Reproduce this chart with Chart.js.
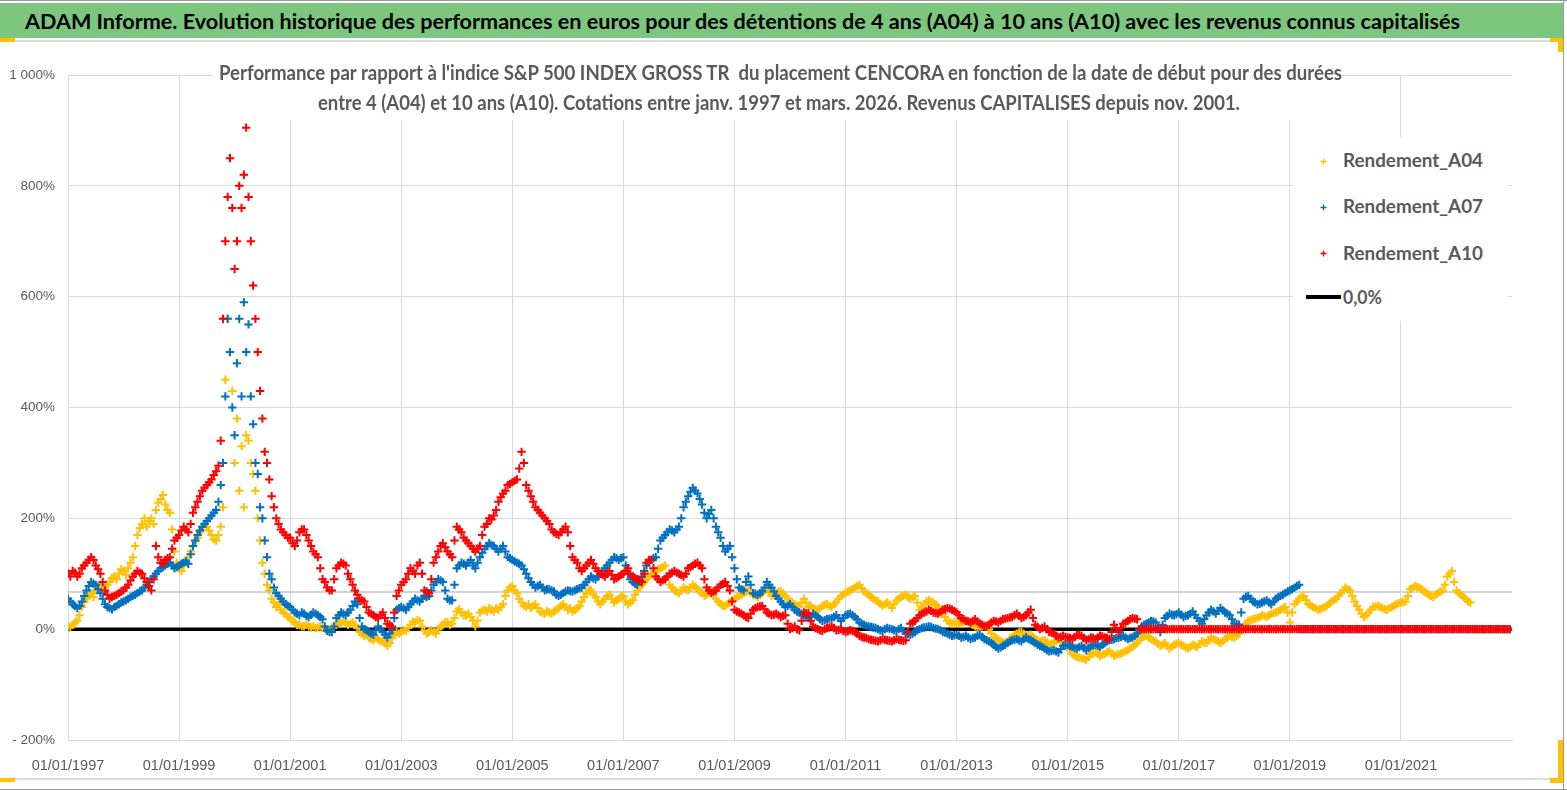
<!DOCTYPE html>
<html>
<head>
<meta charset="utf-8">
<script src="https://cdn.jsdelivr.net/npm/chart.js@4.4.1/dist/chart.umd.min.js"></script>
<style>
html, body { margin: 0; padding: 0; background: #fff; }
#page { position: relative; width: 1567px; height: 790px; overflow: hidden; background: #fff; }
#chartBox { position: absolute; left: 0; top: 0; width: 1567px; height: 790px; }
#titlebar { position: absolute; left: 0; top: 3px; width: 1563px; height: 35px; background: #7dc67e; }
.txt { position: absolute; white-space: pre; transform-origin: 0 0; font-family: Lato, 'Open Sans', sans-serif; font-weight: bold; }
.grey { color: #595959; }
.mask { position: absolute; background: #fff; }
.frame { position: absolute; }
</style>
</head>
<body>
<div id="page">
  <div id="chartBox"><canvas id="chart"></canvas></div>

  <div class="frame" style="left:0;top:0;width:1567px;height:1px;background:#9a9a9a"></div>
  <div class="frame" style="left:0;top:789px;width:1567px;height:1px;background:#9a9a9a"></div>
  <div class="frame" style="left:1563px;top:0;width:1px;height:790px;background:#9a9a9a"></div>
  <div class="frame" style="left:0;top:40px;width:1563px;height:2px;background:#dcdcdc"></div>
  <div class="frame" style="left:0;top:778px;width:1563px;height:2px;background:#dcdcdc"></div>
  <div class="frame" style="left:0;top:38px;width:15px;height:4px;background:#ffc000"></div>
  <div class="frame" style="left:0;top:778px;width:15px;height:4px;background:#ffc000"></div>
  <div class="frame" style="left:1550px;top:38px;width:13px;height:4px;background:#ffc000"></div>
  <div class="frame" style="left:1558px;top:38px;width:5px;height:14px;background:#ffc000"></div>
  <div class="frame" style="left:1550px;top:778px;width:13px;height:5px;background:#ffc000"></div>
  <div class="frame" style="left:1558px;top:740px;width:5px;height:43px;background:#ffc000"></div>

  <div id="titlebar"></div>
  <span class="txt fit" data-w="1435" style="left:25px;top:11px;font-size:21.5px;line-height:21.5px;color:#000">ADAM Informe. Evolution historique des performances en euros pour des détentions de 4 ans (A04) à 10 ans (A10) avec les revenus connus capitalisés</span>

  <div class="mask" style="left:213px;top:58px;width:1128px;height:62px"></div>
  <span class="txt grey fit" data-w="1123" style="left:219px;top:62px;font-size:21.5px;line-height:21.5px">Performance par rapport à l'indice S&amp;P 500 INDEX GROSS TR  du placement CENCORA en fonction de la date de début pour des durées</span>
  <span class="txt grey fit" data-w="922" style="left:318px;top:92px;font-size:21.5px;line-height:21.5px">entre 4 (A04) et 10 ans (A10). Cotations entre janv. 1997 et mars. 2026. Revenus CAPITALISES depuis nov. 2001.</span>

  <div class="mask" style="left:1293px;top:137px;width:215px;height:184px"></div>
  <div id="legend"></div>
</div>

<script>
// x positions: two readings per month (start and middle), as decimal years
const dates = [];
for (let y = 1997; y < 2023; y++) {
    for (let k = 0; k < 24; k++) dates.push(y + k / 24);
}

// Rendement_A04 (%), 24 readings per year, 1997 -> 2022
const A04 = [
    5, 3, 8, 12, 15, 25, 40, 50, 55, 62, 65, 58, 70, 78, 80, 72, 75, 80, 85, 92, 95, 90, 100, 108,                 // 1997
    105, 98, 110, 120, 130, 150, 170, 182, 190, 200, 185, 195, 200, 190, 215, 228, 235, 242, 225, 215, 210, 180, 140, 120, // 1998
    110, 105, 115, 125, 130, 140, 150, 158, 165, 175, 180, 190, 185, 178, 170, 162, 160, 170, 185, 220, 450, 560, 500, 430, // 1999
    300, 380, 250, 330, 220, 350, 340, 300, 280, 250, 200, 160, 120, 100, 80, 70, 55, 48, 40, 45, 35, 30, 28, 22,  // 2000
    20, 15, 12, 8, 8, 5, 5, 8, 5, 3, 5, 2, 3, 5, 2, 0, 0, -2, 3, 5, 8, 12, 10, 14,                                 // 2001
    12, 8, 10, 12, 8, 2, -5, -8, -12, -10, -15, -18, -20, -15, -18, -22, -22, -25, -30, -25, -15, -10, -5, -8,     // 2002
    -5, -2, -3, 2, 8, 14, 12, 16, 15, 5, -3, -8, -5, -2, -5, -8, 0, 5, 8, 12, 12, 8, 10, 20,                       // 2003
    32, 36, 30, 25, 25, 28, 22, 15, 5, 15, 30, 34, 35, 32, 38, 35, 32, 38, 35, 40, 45, 60, 70, 75,                 // 2004
    78, 70, 65, 55, 48, 42, 40, 45, 38, 42, 45, 38, 32, 30, 28, 32, 30, 28, 32, 35, 38, 42, 45, 40,                // 2005
    35, 38, 32, 35, 38, 42, 50, 58, 65, 72, 70, 62, 58, 50, 45, 50, 55, 60, 62, 55, 48, 52, 55, 58,                // 2006
    60, 50, 45, 48, 52, 62, 70, 75, 80, 85, 90, 95, 100, 98, 105, 108, 110, 112, 115, 95, 80, 75, 70, 68,          // 2007
    65, 70, 75, 72, 70, 75, 80, 76, 72, 68, 65, 60, 62, 66, 70, 62, 55, 50, 45, 42, 42, 45, 48, 52,                // 2008
    55, 58, 60, 62, 65, 68, 70, 66, 62, 60, 58, 62, 65, 70, 72, 66, 60, 62, 65, 68, 68, 64, 60, 55,                // 2009
    50, 48, 45, 42, 40, 48, 55, 48, 40, 42, 38, 36, 35, 38, 42, 44, 45, 42, 40, 45, 48, 55, 60, 62,                // 2010
    65, 68, 70, 72, 75, 78, 80, 74, 68, 65, 62, 58, 55, 52, 50, 46, 42, 45, 48, 44, 38, 45, 52, 55,                // 2011
    58, 60, 62, 58, 55, 58, 60, 48, 35, 40, 45, 50, 52, 50, 48, 44, 40, 35, 28, 22, 15, 12, 10, 12,                // 2012
    12, 11, 10, 13, 15, 14, 12, 8, 5, 3, 2, 5, 8, 5, 0, -8, -15, -16, -18, -22, -25, -24, -22, -18,                // 2013
    -15, -10, -8, -6, -5, -8, -12, -11, -10, -14, -18, -20, -22, -21, -20, -24, -28, -26, -25, -22, -18, -22, -25, -28, // 2014
    -30, -38, -45, -48, -50, -51, -52, -54, -55, -50, -45, -44, -42, -45, -48, -46, -45, -42, -40, -44, -48, -46, -45, -44, // 2015
    -42, -40, -38, -35, -32, -28, -25, -20, -15, -13, -12, -15, -18, -20, -22, -26, -30, -28, -25, -30, -35, -32, -28, -26, // 2016
    -25, -28, -30, -33, -35, -32, -28, -30, -32, -27, -22, -24, -25, -20, -15, -18, -20, -22, -25, -22, -18, -15, -12, -14, // 2017
    -15, -12, -8, -2, 5, 10, 15, 16, 18, 19, 20, 22, 25, 24, 22, 25, 28, 29, 30, 32, 35, 38, 40, 30,               // 2018
    12, 30, 45, 50, 55, 58, 60, 52, 45, 42, 40, 38, 35, 36, 38, 40, 42, 46, 50, 52, 55, 60, 65, 70,                // 2019
    75, 72, 70, 60, 50, 42, 35, 28, 22, 25, 30, 35, 40, 41, 42, 40, 38, 36, 35, 38, 40, 42, 45, 47,                // 2020
    48, 49, 50, 60, 72, 75, 78, 76, 75, 72, 68, 65, 62, 60, 58, 62, 65, 68, 70, 80, 95, 100, 105, 85,              // 2021
    70, 65, 62, 58, 55, 50, 48, 0, 0, 0, 0, 0, 0, 0, 0, 0, 0, 0, 0, 0, 0, 0, 0, 0                                  // 2022
];

// Rendement_A07 (%)
const A07 = [
    55, 50, 45, 42, 38, 42, 50, 60, 70, 78, 85, 82, 80, 72, 65, 55, 45, 40, 38, 36, 40, 42, 45, 48,                // 1997
    50, 52, 55, 58, 60, 62, 65, 68, 70, 75, 80, 85, 90, 95, 100, 105, 110, 112, 115, 118, 120, 115, 110, 112,      // 1998
    115, 118, 120, 122, 118, 135, 150, 160, 170, 178, 185, 190, 195, 200, 205, 210, 215, 230, 260, 300, 420, 560, 500, 400, // 1999
    350, 480, 560, 420, 590, 500, 550, 420, 370, 300, 280, 220, 200, 160, 130, 100, 90, 75, 65, 60, 55, 50, 45, 42, // 2000
    40, 35, 30, 28, 25, 30, 28, 24, 22, 26, 30, 28, 25, 22, 18, 5, -3, -5, -5, 5, 20, 25, 30, 28,                  // 2001
    25, 30, 35, 42, 50, 45, 20, 5, 0, -2, -5, -8, -10, -2, 5, 0, -5, -10, -15, -8, 0, 20, 35, 38,                  // 2002
    40, 38, 35, 40, 45, 50, 55, 52, 50, 55, 60, 58, 60, 70, 80, 85, 90, 88, 85, 70, 55, 52, 52, 80,                // 2003
    110, 115, 120, 118, 115, 120, 125, 115, 110, 120, 130, 138, 145, 150, 155, 152, 150, 145, 140, 145, 150, 140, 130, 128, // 2004
    125, 122, 120, 118, 115, 108, 100, 92, 85, 80, 75, 78, 80, 75, 70, 72, 72, 70, 68, 62, 60, 62, 65, 68,         // 2005
    70, 69, 68, 70, 72, 74, 75, 80, 85, 90, 95, 92, 90, 95, 100, 105, 110, 115, 120, 125, 130, 128, 125, 128,      // 2006
    130, 115, 100, 90, 85, 82, 80, 88, 95, 105, 115, 120, 125, 128, 130, 145, 160, 165, 170, 175, 180, 178, 175, 180, // 2007
    185, 200, 220, 230, 240, 248, 255, 250, 245, 235, 225, 210, 200, 208, 215, 200, 185, 175, 165, 150, 140, 145, 150, 130, // 2008
    110, 90, 75, 72, 70, 85, 95, 80, 65, 64, 62, 65, 68, 75, 85, 80, 75, 68, 60, 55, 50, 45, 40, 42,               // 2009
    45, 40, 35, 32, 30, 28, 25, 22, 20, 24, 28, 25, 22, 18, 15, 16, 18, 19, 20, 22, 25, 20, 15, 20,                // 2010
    25, 27, 28, 25, 22, 18, 12, 10, 8, 6, 5, 4, 3, 2, 0, -2, -3, 0, 2, 1, 0, -2, -3, 0,                            // 2011
    2, -3, -8, -9, -10, -8, -5, -2, 0, 2, 3, 4, 5, 4, 2, 1, 0, -2, -5, -6, -8, -10, -12, -11,                      // 2012
    -10, -12, -15, -14, -12, -15, -18, -16, -15, -12, -10, -14, -18, -20, -22, -25, -28, -32, -35, -33, -30, -28, -25, -22, // 2013
    -20, -19, -18, -20, -22, -18, -15, -18, -20, -22, -25, -28, -30, -32, -35, -38, -40, -39, -38, -40, -42, -36, -30, -29, // 2014
    -28, -30, -32, -34, -35, -32, -30, -34, -38, -34, -30, -29, -28, -30, -32, -28, -25, -22, -20, -19, -18, -16, -15, -14, // 2015
    -12, -15, -18, -16, -15, -12, -8, -2, 5, 8, 10, 12, 15, 14, 12, 3, -5, 8, 20, 24, 28, 26, 25, 27,              // 2016
    30, 26, 22, 24, 25, 28, 32, 26, 20, 15, 10, 18, 25, 30, 35, 32, 28, 33, 38, 34, 30, 28, 25, 18,                // 2017
    10, 9, 8, 30, 55, 58, 60, 55, 50, 48, 45, 46, 48, 50, 52, 48, 45, 50, 55, 58, 60, 62, 65, 68,                  // 2018
    70, 72, 75, 78, 80, 0, 0, 0, 0, 0, 0, 0, 0, 0, 0, 0, 0, 0, 0, 0, 0, 0, 0, 0,                                   // 2019
    0, 0, 0, 0, 0, 0, 0, 0, 0, 0, 0, 0, 0, 0, 0, 0, 0, 0, 0, 0, 0, 0, 0, 0,                                        // 2020
    0, 0, 0, 0, 0, 0, 0, 0, 0, 0, 0, 0, 0, 0, 0, 0, 0, 0, 0, 0, 0, 0, 0, 0,                                        // 2021
    0, 0, 0, 0, 0, 0, 0, 0, 0, 0, 0, 0, 0, 0, 0, 0, 0, 0, 0, 0, 0, 0, 0, 0                                         // 2022
];

// Rendement_A10 (%)
const A10 = [
    100, 95, 105, 102, 95, 100, 110, 115, 120, 125, 130, 125, 115, 108, 100, 85, 70, 62, 55, 58, 60, 62, 65, 68,   // 1997
    70, 75, 80, 88, 95, 100, 105, 102, 100, 92, 85, 78, 70, 90, 150, 130, 120, 118, 125, 128, 130, 145, 160, 165,  // 1998
    170, 178, 185, 180, 175, 190, 210, 220, 230, 240, 250, 255, 260, 265, 270, 278, 285, 295, 340, 560, 700, 780, 850, 760, // 1999
    650, 700, 800, 760, 820, 905, 780, 700, 620, 560, 500, 430, 380, 320, 300, 270, 240, 220, 200, 190, 180, 175, 170, 165, // 2000
    165, 155, 150, 160, 175, 180, 180, 170, 160, 150, 140, 135, 130, 110, 90, 85, 75, 70, 70, 90, 110, 115, 120, 118, // 2001
    115, 100, 90, 80, 70, 62, 55, 52, 50, 40, 30, 28, 25, 22, 20, 25, 30, 20, 10, 8, 5, 30, 60, 70,                // 2002
    80, 85, 90, 100, 110, 105, 100, 115, 120, 100, 70, 68, 65, 90, 120, 130, 140, 150, 155, 148, 140, 135, 130, 160, // 2003
    185, 180, 175, 165, 160, 155, 150, 145, 140, 145, 150, 170, 185, 190, 200, 198, 205, 215, 230, 238, 245, 250, 260, 262, // 2004
    265, 268, 270, 290, 320, 300, 260, 250, 240, 230, 220, 215, 210, 205, 200, 195, 190, 180, 175, 172, 170, 175, 180, 185, // 2005
    175, 150, 130, 125, 120, 110, 105, 110, 115, 120, 125, 118, 110, 105, 100, 98, 95, 100, 105, 98, 90, 92, 95, 98, // 2006
    100, 105, 110, 100, 95, 92, 90, 88, 85, 100, 120, 125, 125, 110, 95, 90, 85, 88, 90, 95, 100, 102, 105, 102,   // 2007
    100, 98, 95, 100, 110, 112, 115, 118, 120, 115, 110, 90, 75, 70, 65, 68, 70, 75, 80, 82, 85, 78, 70, 50,       // 2008
    35, 32, 30, 28, 25, 22, 20, 28, 35, 38, 40, 41, 42, 36, 30, 28, 25, 26, 28, 25, 22, 24, 25, 10,                // 2009
    0, 2, 5, 0, -2, 15, 30, 29, 28, 15, 5, 2, 0, -2, -3, 0, 2, 3, 5, 2, -2, -1, 0, -3,                             // 2010
    -5, -4, -2, -3, -5, -8, -12, -14, -15, -16, -18, -19, -20, -21, -22, -20, -18, -19, -20, -21, -22, -20, -18, -19, // 2011
    -20, -21, -20, -5, 10, 12, 15, 20, 25, 28, 30, 32, 35, 33, 30, 29, 28, 31, 35, 36, 38, 37, 35, 33,             // 2012
    30, 25, 20, 18, 15, 14, 12, 15, 18, 14, 10, 8, 5, 6, 8, 12, 15, 14, 12, 15, 18, 19, 20, 21,                    // 2013
    22, 25, 28, 24, 20, 22, 25, 30, 35, 20, 8, 4, 0, 2, 5, 0, -5, -6, -8, -12, -15, -14, -12, -14,                 // 2014
    -15, -16, -18, -14, -10, -11, -12, -16, -20, -18, -15, -16, -18, -15, -12, -13, -15, -16, -18, -5, 8, 2, -5, 2, // 2015
    10, 12, 15, 18, 20, 19, 18, 0, 0, 0, 0, 0, 0, 0, 0, 0, 0, 0, 0, 0, 0, 0, 0, 0,                                 // 2016
    0, 0, 0, 0, 0, 0, 0, 0, 0, 0, 0, 0, 0, 0, 0, 0, 0, 0, 0, 0, 0, 0, 0, 0,                                        // 2017
    0, 0, 0, 0, 0, 0, 0, 0, 0, 0, 0, 0, 0, 0, 0, 0, 0, 0, 0, 0, 0, 0, 0, 0,                                        // 2018
    0, 0, 0, 0, 0, 0, 0, 0, 0, 0, 0, 0, 0, 0, 0, 0, 0, 0, 0, 0, 0, 0, 0, 0,                                        // 2019
    0, 0, 0, 0, 0, 0, 0, 0, 0, 0, 0, 0, 0, 0, 0, 0, 0, 0, 0, 0, 0, 0, 0, 0,                                        // 2020
    0, 0, 0, 0, 0, 0, 0, 0, 0, 0, 0, 0, 0, 0, 0, 0, 0, 0, 0, 0, 0, 0, 0, 0,                                        // 2021
    0, 0, 0, 0, 0, 0, 0, 0, 0, 0, 0, 0, 0, 0, 0, 0, 0, 0, 0, 0, 0, 0, 0, 0                                         // 2022
];

const zeroLine = [0, 0];
const lineEnds = [1997, 2023];
const greyLevel = [67, 67]; // grey horizontal reference line seen in the picture

const xTickYears = [1997, 1999, 2001, 2003, 2005, 2007, 2009, 2011, 2013, 2015, 2017, 2019, 2021];
const yTicks = [-200, 0, 200, 400, 600, 800, 1000];

const legendItems = [
    { label: 'Rendement_A04', color: '#ffc000', kind: 'cross' },
    { label: 'Rendement_A07', color: '#0070c0', kind: 'cross' },
    { label: 'Rendement_A10', color: '#ff0000', kind: 'cross' },
    { label: '0,0%', color: '#000000', kind: 'line' }
];

const toPoints = (xs, ys) => ys.map((v, i) => ({ x: xs[i], y: v }));

function fmtPct(v) {
    const a = Math.abs(v);
    const s = a >= 1000 ? Math.floor(a / 1000) + ' ' + String(a % 1000).padStart(3, '0') : String(a);
    return (v < 0 ? '- ' : '') + s + '%';
}

const crossStyle = (color) => ({
    pointStyle: 'cross',
    pointRadius: 4.2,
    pointHoverRadius: 4.2,
    borderColor: color,
    backgroundColor: color,
    borderWidth: 2,
    showLine: false
});

const ctx = document.getElementById('chart').getContext('2d');
new Chart(ctx, {
    type: 'scatter',
    data: {
        datasets: [
            Object.assign({ label: 'Rendement_A10', data: toPoints(dates, A10), order: 1 }, crossStyle('#ff0000')),
            Object.assign({ label: 'Rendement_A07', data: toPoints(dates, A07), order: 2 }, crossStyle('#0070c0')),
            Object.assign({ label: 'Rendement_A04', data: toPoints(dates, A04), order: 3 }, crossStyle('#ffc000')),
            {
                label: '0,0%', type: 'line', data: toPoints(lineEnds, zeroLine),
                borderColor: '#000', borderWidth: 3.5, pointRadius: 0, order: 4
            },
            {
                label: 'niveau', type: 'line', data: toPoints(lineEnds, greyLevel),
                borderColor: '#c4c4c4', borderWidth: 1.5, pointRadius: 0, order: 5
            }
        ]
    },
    options: {
        responsive: true,
        maintainAspectRatio: false,
        animation: false,
        layout: { padding: { left: 0, top: 75, right: 55, bottom: 0 } },
        plugins: { legend: { display: false }, tooltip: { enabled: false }, title: { display: false } },
        scales: {
            x: {
                type: 'linear',
                min: 1997,
                max: 2023,
                afterBuildTicks: (scale) => { scale.ticks = xTickYears.map(v => ({ value: v })); },
                afterFit: (scale) => { scale.height = 50; },
                ticks: {
                    callback: (v) => '01/01/' + v,
                    color: '#595959',
                    font: { family: 'Liberation Sans', size: 14.5 },
                    padding: 17,
                    maxRotation: 0,
                    autoSkip: false
                },
                grid: { color: '#d9d9d9', lineWidth: 1, drawTicks: false },
                border: { color: '#d9d9d9' }
            },
            y: {
                min: -200,
                max: 1000,
                afterBuildTicks: (scale) => { scale.ticks = yTicks.map(v => ({ value: v })); },
                afterFit: (scale) => { scale.width = 68; },
                ticks: {
                    callback: (v) => fmtPct(v),
                    color: '#595959',
                    font: { family: 'Liberation Sans', size: 13.5 },
                    padding: 13
                },
                grid: { color: '#d9d9d9', lineWidth: 1, drawTicks: false },
                border: { color: '#d9d9d9' }
            }
        }
    }
});

// legend drawn as HTML over the plot area
const legendTops = [150, 196, 243, 287];
const legendMarkY = [161, 207, 253, 297];
const legendBox = document.getElementById('legend');
legendItems.forEach((item, i) => {
    const span = document.createElement('span');
    span.className = 'txt grey fit';
    span.textContent = item.label;
    span.dataset.w = item.kind === 'line' ? 39 : 140;
    span.style.left = '1343px';
    span.style.top = legendTops[i] + 'px';
    span.style.fontSize = '19.5px';
    span.style.lineHeight = '19.5px';
    legendBox.appendChild(span);

    const mark = document.createElement('div');
    mark.style.position = 'absolute';
    if (item.kind === 'line') {
        mark.style.left = '1306px';
        mark.style.top = (legendMarkY[i] - 2) + 'px';
        mark.style.width = '35px';
        mark.style.height = '4px';
        mark.style.background = item.color;
    } else {
        mark.innerHTML = '<svg width="9" height="9" viewBox="0 0 9 9"><path d="M4.5 1.5V7.5M1.5 4.5H7.5" stroke="' +
            item.color + '" stroke-width="1.3"/></svg>';
        mark.style.left = '1319px';
        mark.style.top = (legendMarkY[i] - 4.5) + 'px';
        mark.style.lineHeight = '0';
    }
    legendBox.appendChild(mark);
});

function fitAll() {
    document.querySelectorAll('.fit').forEach(el => {
        el.style.transform = 'none';
        const w = el.getBoundingClientRect().width;
        if (w > 0) el.style.transform = 'scaleX(' + (Number(el.dataset.w) / w) + ')';
    });
}
fitAll();
if (document.fonts && document.fonts.ready) document.fonts.ready.then(fitAll);
</script>
</body>
</html>
